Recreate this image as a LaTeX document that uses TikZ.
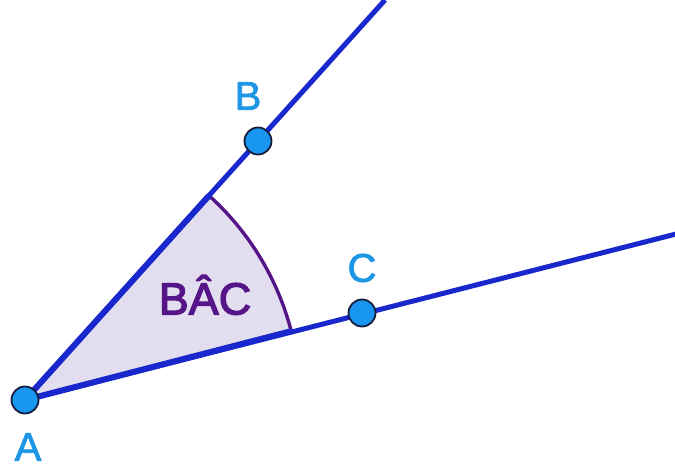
\documentclass[tikz,border=0pt]{standalone}
\usepackage{fontspec}
\setmainfont{Liberation Sans}[FakeBold=2]
\usetikzlibrary{calc}
\definecolor{linecol}{RGB}{25,40,205}
\definecolor{ptfill}{RGB}{25,150,240}
\definecolor{ptdraw}{RGB}{20,30,60}
\definecolor{lblcol}{RGB}{30,150,230}
\definecolor{sectfill}{RGB}{226,222,240}
\definecolor{arccol}{RGB}{85,20,135}
\tikzset{
  ray/.style={draw=linecol, line width=5pt},
  pt/.style={circle, fill=ptfill, draw=ptdraw, line width=1.8pt, minimum size=27pt, inner sep=0pt},
  lbl/.style={text=lblcol, font=\fontsize{40}{40}\selectfont, inner sep=0pt},
}
\begin{document}
\begin{tikzpicture}[x=1pt,y=1pt]
\useasboundingbox (0,0) rectangle (675,469);
\clip (0,0) rectangle (675,469);
\coordinate (A) at (25,69);
\coordinate (Bp) at (258,328);
\coordinate (Cp) at (362,156);
\coordinate (EB) at (385,469);
\coordinate (EC) at (680,236);
\coordinate (S1) at ($(A)+(14.5:275)$);
\coordinate (S2) at ($(A)+(48:275)$);
% sector
\fill[sectfill] (A) -- (S1) arc[start angle=14.5, end angle=48, radius=275] -- cycle;
\draw[arccol, line width=3.4pt] (S1) arc[start angle=14.5, end angle=48, radius=275];
\node[text=arccol, font=\fontsize{45}{45}\selectfont\addfontfeature{FakeBold=2.8}, inner sep=0pt] (ang) at (205,174) {BÂC};
% rays
\draw[ray] (A) -- (EB);
\draw[ray] (A) -- (EC);
\draw[ray, line width=6pt] (S1) -- (A) -- (S2);
% points
\node[pt] (a) at (A) {};
\node[pt] (b) at (Bp) {};
\node[pt] (c) at (Cp) {};
\node[lbl] (la) at (28,22) {A};
\node[lbl] (lb) at (248,373) {B};
\node[lbl] (lc) at (362,201) {C};
\end{tikzpicture}
\end{document}
